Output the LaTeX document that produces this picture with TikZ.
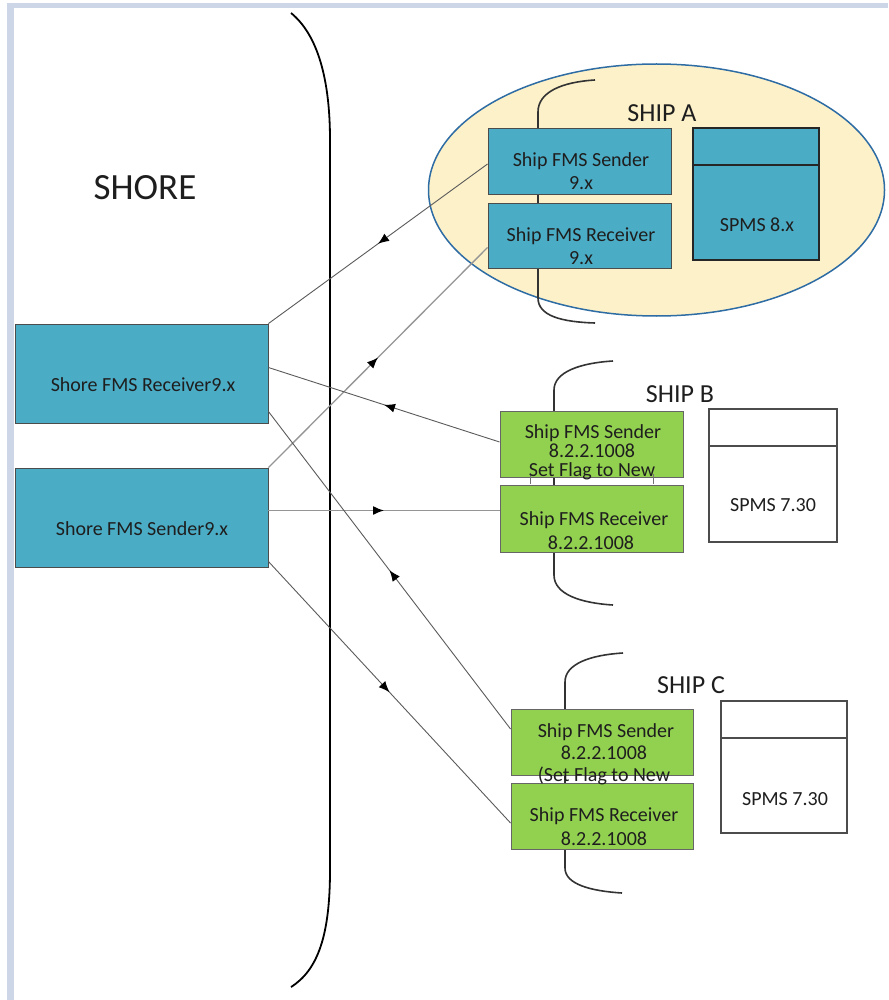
\documentclass[tikz,border=0pt]{standalone}
\usepackage{fontspec}
\setmainfont{Carlito}
\usetikzlibrary{arrows.meta,decorations.markings,calc}

\definecolor{framestrip}{HTML}{CDD6E6}
\definecolor{fmsteal}{HTML}{4BACC6}
\definecolor{fmsgreen}{HTML}{92D050}
\definecolor{shipfill}{HTML}{FDF1C9}
\definecolor{shipedge}{HTML}{2E6CA4}
\definecolor{inkdark}{HTML}{1E1E1E}
\definecolor{linkdark}{HTML}{5A5A5A}
\definecolor{linklight}{HTML}{959595}

\begin{document}
\begin{tikzpicture}[x=1pt,y=-1pt,
  tealbox/.style={draw=black!70, line width=0.9pt, fill=fmsteal, inner sep=0pt},
  greenbox/.style={draw=black!60, line width=0.9pt, fill=fmsgreen, inner sep=0pt},
  spmsteal/.style={draw=black!85, line width=1.6pt, fill=fmsteal, inner sep=0pt},
  spmswhite/.style={draw=black!70, line width=1.6pt, fill=white, inner sep=0pt},
  txt/.style={text=inkdark, font=\fontsize{20}{24}\selectfont, inner sep=0pt, anchor=base},
  title/.style={text=inkdark, font=\fontsize{26}{30}\selectfont, inner sep=0pt, anchor=base},
  shipbrace/.style={draw=black!80, line width=1.6pt},
  arrowmid/.style={postaction={decorate}, decoration={markings,
      mark=at position 0.5 with {\arrow[black]{Latex[length=11pt,width=9pt]}}}},
  flowdark/.style={draw=linkdark, line width=0.9pt, arrowmid},
  flowlight/.style={draw=linklight, line width=1.3pt, arrowmid}
]
\useasboundingbox (0,0) rectangle (888,1000);

% page frame strips
\fill[framestrip] (7,3) rectangle (888,8);
\fill[framestrip] (7,3) rectangle (14,1000);

% shore boundary
\draw[line width=1.8pt, black]
  (291,13) .. controls (318,35) and (330,80) .. (330,140)
  -- (330,870) .. controls (330,935) and (318,970) .. (291,987);
\node[title, font=\fontsize{37}{42}\selectfont] (shore) at (145,200) {SHORE};

% ship A hull
\draw[draw=shipedge, line width=1.5pt, fill=shipfill] (656.5,190) ellipse [x radius=228, y radius=126];

% ship braces
\draw[shipbrace] (595,80) .. controls (562,82) and (538,92) .. (538,112) -- (538,298) .. controls (538,316) and (562,322) .. (595,323);
\draw[shipbrace] (613,361) .. controls (580,363) and (554,372) .. (554,390) -- (554,575) .. controls (554,594) and (580,603) .. (613,605);
\draw[shipbrace] (623,653) .. controls (590,655) and (565,664) .. (565,682) -- (565,868) .. controls (565,884) and (590,891) .. (622,893);

% shore boxes
\node[tealbox, minimum width=253pt, minimum height=99pt] (shrx) at (141.5,373.5) {};
\node[tealbox, minimum width=253pt, minimum height=99pt] (shtx) at (141.5,517.5) {};
\node[txt] (shrxT) at (143,391) {Shore FMS Receiver9.x};
\node[txt] (shtxT) at (142,535) {Shore FMS Sender9.x};

% ship A
\node[title] (shipA) at (662,122) {SHIP A};
\node[tealbox, minimum width=183pt, minimum height=66pt] (sas) at (579.5,161) {};
\node[tealbox, minimum width=183pt, minimum height=65pt] (sar) at (579.5,235.5) {};
\node[spmsteal, minimum width=126pt, minimum height=132pt] (spa) at (756,194) {};
\draw[black!85, line width=1.6pt] (spa.west |- 0,165) -- (spa.east |- 0,165);
\node[txt] (sasT1) at (581,167) {Ship FMS Sender};
\node[txt] (sasT2) at (581,190) {9.x};
\node[txt] (sarT1) at (581,241) {Ship FMS Receiver};
\node[txt] (sarT2) at (581,264) {9.x};
\node[txt] (spaT) at (757,232) {SPMS 8.x};

% ship B
\node[title] (shipB) at (680,402) {SHIP B};
\node[greenbox, minimum width=183pt, minimum height=66pt] (sbs) at (591.5,444) {};
\node[greenbox, minimum width=183pt, minimum height=67pt] (sbr) at (591.5,518.5) {};
\node[spmswhite, minimum width=128pt, minimum height=133pt] (spb) at (773,475.5) {};
\draw[black!70, line width=1.6pt] (spb.west |- 0,446) -- (spb.east |- 0,446);
\draw[black!55, line width=0.8pt] (530,473) -- (530,484);
\draw[black!55, line width=0.8pt] (653,474) -- (653,484);
\node[txt] (sbsT1) at (593,438) {Ship FMS Sender};
\node[txt] (sbsT2) at (592,457) {8.2.2.1008};
\node[txt] (sbsT3) at (592,476) {Set Flag to New};
\node[txt] (sbrT1) at (594,525) {Ship FMS Receiver};
\node[txt] (sbrT2) at (591,549) {8.2.2.1008};
\node[txt] (spbT) at (773,511) {SPMS 7.30};

% ship C
\node[title] (shipC) at (691,693) {SHIP C};
\node[greenbox, minimum width=182pt, minimum height=66pt] (scs) at (602,742) {};
\node[greenbox, minimum width=182pt, minimum height=66pt] (scr) at (602,816) {};
\node[spmswhite, minimum width=126pt, minimum height=132pt] (spc) at (784,767) {};
\draw[black!70, line width=1.6pt] (spc.west |- 0,738) -- (spc.east |- 0,738);
\node[txt] (scsT1) at (606,737) {Ship FMS Sender};
\node[txt] (scsT2) at (604,759) {8.2.2.1008};
\node[txt] (scsT3) at (604,781) {(Set Flag to New};
\node[txt] (scrT1) at (604,821) {Ship FMS Receiver};
\node[txt] (scrT2) at (604,845) {8.2.2.1008};
\node[txt] (spcT) at (785,805) {SPMS 7.30};

% message links between shore and ships
\draw[flowdark]  ($(sas.west)+(0,3)$) -- (shrx.north east);
\draw[flowlight] (shtx.north east) -- ($(sar.west)+(0,12)$);
\draw[flowdark]  ($(sbs.west)+(0,-2)$) -- ($(shrx.east)+(0,-6)$);
\draw[flowlight] ($(shtx.east)+(0,-7)$) -- ($(sbr.west)+(0,-8)$);
\draw[flowdark]  ($(scs.west)+(0,-13)$) -- ($(shrx.east)+(0,38)$);
\draw[flowdark]  ($(shtx.east)+(0,44)$) -- ($(scr.west)+(0,7)$);
\end{tikzpicture}
\end{document}
